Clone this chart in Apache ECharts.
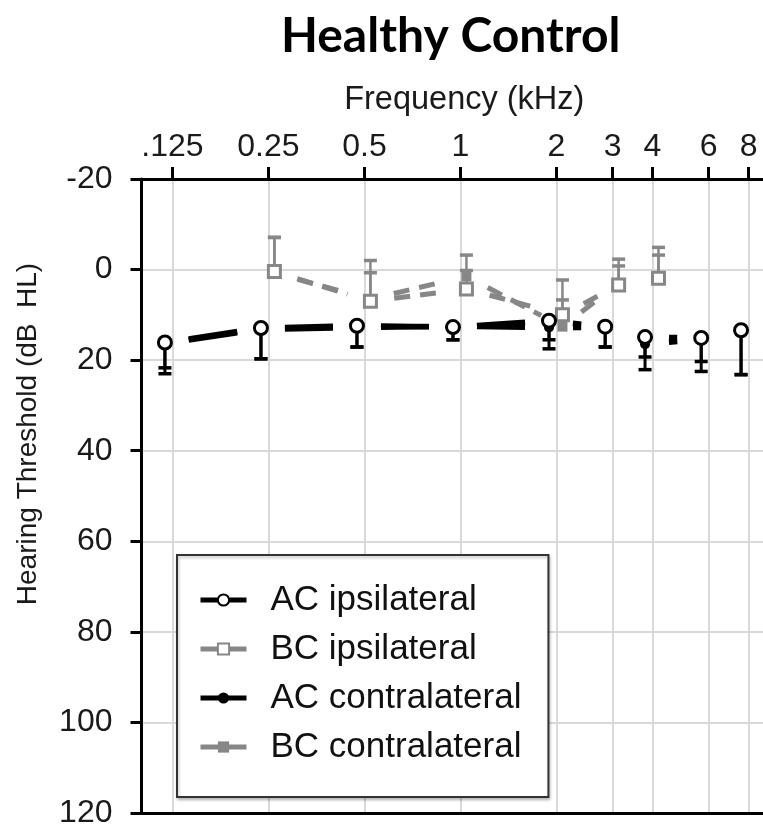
<!DOCTYPE html>
<html>
<head>
<meta charset="utf-8">
<script src="https://cdn.jsdelivr.net/npm/echarts@6/dist/echarts.min.js"></script>
<style>
  html, body { margin: 0; padding: 0; background: #fff; }
  #chart { width: 763px; height: 829px; }
</style>
</head>
<body>
<div id="chart"></div>
<script>
// ---------------- data ----------------
const titleText = 'Healthy Control';
const xName = 'Frequency (kHz)';
const yName = 'Hearing Threshold (dB  HL)';

const freqTicks = [0.125, 0.25, 0.5, 1, 2, 3, 4, 6, 8];
const freqTickLabels = ['.125', '0.25', '0.5', '1', '2', '3', '4', '6', '8'];
const freqMinKHz = 0.1;
const freqMaxKHz = 8.88;

const dbMin = -20;
const dbMax = 120;
const dbStep = 20;

const seriesNames = ['AC ipsilateral', 'BC ipsilateral', 'AC contralateral', 'BC contralateral'];

const acFreqs = [0.125, 0.25, 0.5, 1, 2, 3, 4, 6, 8];
const acIpsi = [16.1, 12.9, 12.4, 12.7, 11.3, 12.6, 14.9, 15.1, 13.4];
const acIpsiSD = [6.9, 6.8, 4.7, 2.8, 6.2, 4.5, 4.4, 7.4, 9.8];
const acContra = [16.3, 13.2, 12.8, 12.5, 12.8, 12.8, 16.5, 15.4, 13.6];
const acContraSD = [5.4, 6.5, 4.3, 3.0, 2.7, 4.3, 5.6, 4.9, 9.6];

const bcFreqs = [0.25, 0.5, 1, 2, 3, 4];
const bcIpsi = [0.4, 7.0, 4.3, 10.0, 3.4, 1.9];
const bcIpsiSD = [7.5, 9.0, 7.5, 7.7, 5.7, 6.8];
const bcContra = [0.8, 6.5, 1.5, 12.6, 3.0, 2.2];
const bcContraSD = [7.9, 5.8, 1.3, 5.9, 3.8, 5.4];

// ---------------- styling constants ----------------
const AC_OFF = -0.078;   // horizontal dodge in octaves
const BC_OFF = 0.062;
const BLACK = '#000';
const GRAY = '#878787';
const GRID = '#d9d9d9';
const FONT = "'Liberation Sans', Arial, sans-serif";
const SEG_GAP = 24;

const lg2 = Math.log2;

function points(freqs, vals, off) {
  return freqs.map((f, i) => [lg2(f) + off, vals[i]]);
}
function segments(pts) {
  const out = [];
  for (let i = 0; i < pts.length - 1; i++) out.push([pts[i][0], pts[i][1], pts[i + 1][0], pts[i + 1][1]]);
  return out;
}
function bars(freqs, vals, sds, dir, off) {
  return freqs.map((f, i) => [lg2(f) + off, vals[i], vals[i] + dir * sds[i]]);
}

function segSeries(name, pts, color, dash, width, z) {
  return {
    type: 'custom', name: name, coordinateSystem: 'cartesian2d', silent: true, z: z,
    data: segments(pts),
    renderItem: function (params, api) {
      const p1 = api.coord([api.value(0), api.value(1)]);
      const p2 = api.coord([api.value(2), api.value(3)]);
      const dx = p2[0] - p1[0], dy = p2[1] - p1[1];
      const len = Math.sqrt(dx * dx + dy * dy);
      if (len <= 2 * SEG_GAP) return null;
      const ux = dx / len, uy = dy / len;
      return {
        type: 'line',
        shape: { x1: p1[0] + ux * SEG_GAP, y1: p1[1] + uy * SEG_GAP, x2: p2[0] - ux * SEG_GAP, y2: p2[1] - uy * SEG_GAP },
        style: { stroke: color, lineWidth: width, lineDash: dash, lineCap: 'butt' }
      };
    }
  };
}
function errSeries(name, data, color, stemW, z) {
  return {
    type: 'custom', name: name, coordinateSystem: 'cartesian2d', silent: true, z: z,
    data: data,
    renderItem: function (params, api) {
      const p0 = api.coord([api.value(0), api.value(1)]);
      const p1 = api.coord([api.value(0), api.value(2)]);
      const hw = 6.5;
      return {
        type: 'group',
        children: [
          { type: 'line', shape: { x1: p0[0], y1: p0[1], x2: p1[0], y2: p1[1] }, style: { stroke: color, lineWidth: stemW } },
          { type: 'line', shape: { x1: p1[0] - hw, y1: p1[1], x2: p1[0] + hw, y2: p1[1] }, style: { stroke: color, lineWidth: 3.5 } }
        ]
      };
    }
  };
}
function markerSeries(name, pts, symbol, size, itemStyle, z) {
  return {
    type: 'line', name: name, data: pts, z: z, silent: true,
    symbol: symbol, symbolSize: size, showSymbol: true,
    itemStyle: itemStyle,
    lineStyle: { opacity: 0 }
  };
}

const acIpsiPts = points(acFreqs, acIpsi, AC_OFF);
const acContraPts = points(acFreqs, acContra, AC_OFF);
const bcIpsiPts = points(bcFreqs, bcIpsi, BC_OFF);
const bcContraPts = points(bcFreqs, bcContra, BC_OFF);

const xMin = lg2(freqMinKHz);
const xMax = lg2(freqMaxKHz);
const tickVals = freqTicks.map(lg2);

const chart = echarts.init(document.getElementById('chart'), null, { renderer: 'canvas' });

const option = {
  animation: false,
  backgroundColor: '#fff',
  textStyle: { fontFamily: FONT },
  title: {
    text: titleText, left: 276, top: 8,
    textStyle: { fontFamily: 'Lato, sans-serif', fontWeight: 'bold', fontSize: 48, color: '#000' }
  },
  grid: { left: 141.5, right: 0, top: 179, bottom: 15, containLabel: false },
  xAxis: [{
    type: 'value', position: 'top', min: xMin, max: xMax,
    name: xName, nameLocation: 'middle', nameGap: 62,
    nameTextStyle: { fontSize: 32.5, color: '#1a1a1a', fontFamily: FONT, padding: [0, 0, 0, 24] },
    axisLine: { show: true, onZero: false, lineStyle: { color: BLACK, width: 3 } },
    axisTick: { show: true, customValues: tickVals, length: 12, lineStyle: { color: BLACK, width: 3 } },
    axisLabel: {
      show: true, customValues: tickVals, margin: 16, fontSize: 32, color: '#1a1a1a', fontFamily: FONT,
      formatter: function (v) {
        let best = 0, bd = Infinity;
        tickVals.forEach((t, i) => { const d = Math.abs(t - v); if (d < bd) { bd = d; best = i; } });
        return freqTickLabels[best];
      }
    },
    splitLine: { show: true, lineStyle: { color: GRID, width: 2 } }
  }, {
    type: 'value', position: 'bottom', min: xMin, max: xMax,
    axisLine: { show: true, onZero: false, lineStyle: { color: BLACK, width: 3 } },
    axisTick: { show: false }, axisLabel: { show: false }, splitLine: { show: false }
  }],
  yAxis: {
    type: 'value', inverse: true, min: dbMin, max: dbMax, interval: dbStep,
    axisLine: { show: true, onZero: false, lineStyle: { color: BLACK, width: 3 } },
    axisTick: { show: true, length: 11, lineStyle: { color: BLACK, width: 3 } },
    axisLabel: { margin: 29, fontSize: 32, color: '#1a1a1a', fontFamily: FONT },
    splitLine: { show: true, lineStyle: { color: GRID, width: 2 } }
  },
  graphic: [{
    type: 'text', x: 28, y: 434, rotation: Math.PI / 2,
    style: { text: yName, fontSize: 28, fontFamily: FONT, fill: '#1a1a1a', textAlign: 'center', textVerticalAlign: 'middle' }
  }],
  legend: {
    orient: 'vertical', left: 177, top: 555,
    padding: [25, 27, 30, 21],
    itemWidth: 46, itemHeight: 14, itemGap: 9,
    backgroundColor: '#fff', borderColor: '#333', borderWidth: 2,
    shadowColor: 'rgba(0,0,0,0.25)', shadowBlur: 3, shadowOffsetX: 1, shadowOffsetY: 2,
    textStyle: { fontSize: 35, lineHeight: 40, color: '#111', fontFamily: FONT, padding: [0, 0, 0, 19] },
    selectedMode: false,
    data: [
      { name: seriesNames[0], lineStyle: { color: BLACK, width: 5, opacity: 1, type: 'solid' } },
      { name: seriesNames[1], lineStyle: { color: GRAY, width: 5, opacity: 1, type: 'solid' } },
      { name: seriesNames[2], lineStyle: { color: BLACK, width: 5, opacity: 1, type: 'solid' } },
      { name: seriesNames[3], lineStyle: { color: GRAY, width: 5, opacity: 1, type: 'solid' } }
    ]
  },
  series: [
    // bone conduction (gray)
    errSeries('bcContraErr', bars(bcFreqs, bcContra, bcContraSD, -1, BC_OFF), GRAY, 2.5, 2),
    errSeries('bcIpsiErr', bars(bcFreqs, bcIpsi, bcIpsiSD, -1, BC_OFF), GRAY, 2.5, 2),
    segSeries('bcContraSeg', bcContraPts, GRAY, [16, 10], 5, 3),
    segSeries('bcIpsiSeg', bcIpsiPts, GRAY, [16, 10], 5, 3),
    markerSeries(seriesNames[3], bcContraPts, 'rect', 10, { color: GRAY }, 4),
    markerSeries(seriesNames[1], bcIpsiPts, 'rect', 12, { color: '#fff', borderColor: GRAY, borderWidth: 3 }, 5),
    // air conduction (black)
    errSeries('acContraErr', bars(acFreqs, acContra, acContraSD, 1, AC_OFF), BLACK, 3, 6),
    errSeries('acIpsiErr', bars(acFreqs, acIpsi, acIpsiSD, 1, AC_OFF), BLACK, 3, 6),
    segSeries('acContraSeg', acContraPts, BLACK, null, 5.5, 7),
    segSeries('acIpsiSeg', acIpsiPts, BLACK, null, 5.5, 7),
    markerSeries(seriesNames[2], acContraPts, 'circle', 10, { color: BLACK }, 8),
    markerSeries(seriesNames[0], acIpsiPts, 'circle', 13, { color: '#fff', borderColor: BLACK, borderWidth: 3 }, 9)
  ]
};
chart.setOption(option);
</script>
</body>
</html>
